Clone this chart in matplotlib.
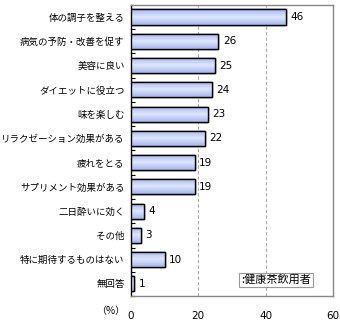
import matplotlib
matplotlib.use("Agg")
import matplotlib.pyplot as plt
import numpy as np
from matplotlib.colors import LinearSegmentedColormap

plt.rcParams['font.family'] = ['Noto Sans CJK JP', 'DejaVu Sans']

categories = ["体の調子を整える", "病気の予防・改善を促す", "美容に良い", "ダイエットに役立つ",
              "味を楽しむ", "リラクゼーション効果がある", "疲れをとる", "サプリメント効果がある",
              "二日酔いに効く", "その他", "特に期待するものはない", "無回答"]
values = [46, 26, 25, 24, 23, 22, 19, 19, 4, 3, 10, 1]
xticks = [0, 20, 40, 60]
legend_label = ":健康茶飲用者"

fig = plt.figure(figsize=(3.4, 3.25), dpi=100)
ax = fig.add_axes([0.385, 0.089, 0.594, 0.896])

y = np.arange(len(categories))
bh = 0.62
bars = ax.barh(y, values, height=bh, color='#bccbf4', edgecolor='black', linewidth=1.0, zorder=3)

# vertical gradient in each bar
grad = np.abs(np.linspace(-1, 1, 64))[:, None]
cmap = LinearSegmentedColormap.from_list('g', ['#dde6fc', '#a6b6ee'])
for b in bars:
    x0, y0 = b.get_x(), b.get_y()
    w, h = b.get_width(), b.get_height()
    im = ax.imshow(grad, cmap=cmap, aspect='auto', extent=(x0, x0 + w, y0 + h, y0),
                   zorder=3.5, interpolation='bilinear')
    im.set_clip_path(b)
    b2 = plt.Rectangle((x0, y0), w, h, fill=False, edgecolor='black', linewidth=1.0, zorder=4)
    ax.add_patch(b2)

for yi, v in zip(y, values):
    ax.text(v + 1.3, yi, str(v), va='center', ha='left', fontsize=7.5,
            family='DejaVu Sans', zorder=5)

ax.set_xlim(0, 60)
ax.set_ylim(len(categories) - 0.5, -0.5)
ax.set_yticks(y)
ax.set_yticklabels(categories, fontsize=6.8)
ax.tick_params(axis='y', length=0, pad=4.5)
ax.set_yticks(np.arange(len(categories) + 1) - 0.5, minor=True)
ax.tick_params(axis='y', which='minor', length=3, direction='in', width=0.8)

ax.set_xticks(xticks)
ax.set_xticklabels([str(t) for t in xticks], fontsize=7.5, family='DejaVu Sans')
ax.tick_params(axis='x', length=0, pad=11)

for t in [20, 40]:
    ax.axvline(t, color='#aaaaaa', linestyle=(0, (3, 2)), linewidth=0.8, zorder=1)

for s in ['top', 'right', 'bottom']:
    ax.spines[s].set_color('#888888')
    ax.spines[s].set_linewidth(1.0)
ax.spines['left'].set_color('black')
ax.spines['left'].set_linewidth(1.0)

fig.text(96 / 340, 1 - 311 / 325, "（%）", fontsize=7.2, ha='left', va='center')

ax.text(0.89, 0.055, legend_label, transform=ax.transAxes, fontsize=8, ha='right', va='center',
        bbox=dict(boxstyle='square,pad=0.2', facecolor='white', edgecolor='#999999', linewidth=0.8),
        zorder=6)

fig.savefig('out.png', dpi=100)
